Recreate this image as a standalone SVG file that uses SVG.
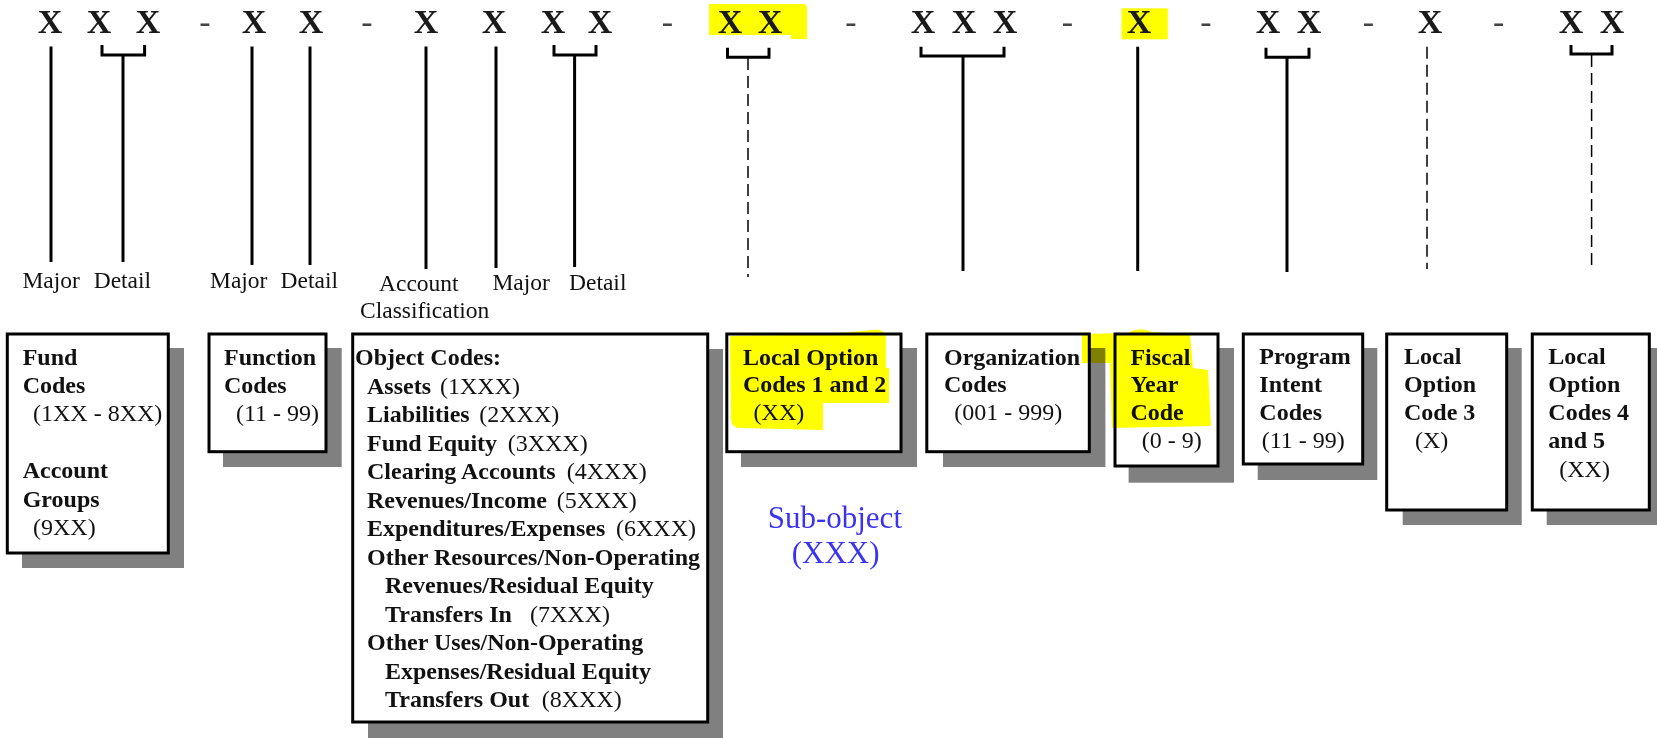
<svg xmlns="http://www.w3.org/2000/svg" width="1657" height="738" viewBox="0 0 1657 738">
<style>
.bx{fill:#fff;stroke:#000;stroke-width:3}
.sh{fill:#808080}
.t{font-family:"Liberation Serif","Times New Roman",serif;font-size:24px;font-weight:bold;fill:#111}
.r{font-weight:normal}
.top{font-family:"Liberation Serif","Times New Roman",serif;font-size:34px;font-weight:bold;fill:#1a1a1a;text-anchor:middle}
.hy{font-family:"Liberation Serif","Times New Roman",serif;font-size:34px;fill:#444;text-anchor:middle}
.lbl{font-family:"Liberation Serif","Times New Roman",serif;font-size:23.5px;fill:#111}
.ln{stroke:#000;stroke-width:3;fill:none}
.dl{stroke:#000;stroke-width:1.5;stroke-dasharray:12 6;fill:none}
.hl{fill:#ffff00;mix-blend-mode:multiply}
.sub{font-family:"Liberation Serif","Times New Roman",serif;font-size:31px;fill:#3a33f0}
</style>
<rect x="0" y="0" width="1657" height="738" fill="#fff"/>

<g id="code-row">
<path class="hl" d="M709,4 H803 Q807,4 807,8 V39 H791 V35 H709 Z"/>
<rect class="hl" x="1121.5" y="8.3" width="46.3" height="31"/>
<text class="top" x="50" y="33">X</text>
<text class="top" x="99" y="33">X</text>
<text class="top" x="148" y="33">X</text>
<text class="hy" x="205" y="33">-</text>
<text class="top" x="254" y="33">X</text>
<text class="top" x="311" y="33">X</text>
<text class="hy" x="367" y="33">-</text>
<text class="top" x="426" y="33">X</text>
<text class="top" x="494" y="33">X</text>
<text class="top" x="553" y="33">X</text>
<text class="top" x="600" y="33">X</text>
<text class="hy" x="667.5" y="33">-</text>
<text class="top" x="730" y="33">X</text>
<text class="top" x="770" y="33">X</text>
<text class="hy" x="851" y="33">-</text>
<text class="top" x="923" y="33">X</text>
<text class="top" x="964" y="33">X</text>
<text class="top" x="1005" y="33">X</text>
<text class="hy" x="1067.5" y="33">-</text>
<text class="top" x="1139" y="33">X</text>
<text class="hy" x="1206" y="33">-</text>
<text class="top" x="1268" y="33">X</text>
<text class="top" x="1309" y="33">X</text>
<text class="hy" x="1368.5" y="33">-</text>
<text class="top" x="1430" y="33">X</text>
<text class="hy" x="1498.7" y="33">-</text>
<text class="top" x="1571" y="33">X</text>
<text class="top" x="1612" y="33">X</text>
</g>

<g id="connectors">
<line class="ln" x1="51" y1="46.5" x2="51" y2="262"/>
<path class="ln" d="M102,45 V55 H144.6 V45 M123,55 V262"/>
<line class="ln" x1="252" y1="46.5" x2="252" y2="265"/>
<line class="ln" x1="310" y1="46.5" x2="310" y2="265"/>
<line class="ln" x1="426" y1="46.5" x2="426" y2="269"/>
<line class="ln" x1="496" y1="46.5" x2="496" y2="268"/>
<path class="ln" d="M554,45 V55 H596 V45 M574.6,55 V267"/>
<path class="ln" d="M727.5,47.7 V57.3 H769 V47.7"/>
<line class="dl" x1="748" y1="58" x2="748" y2="277"/>
<path class="ln" d="M921,46.7 V56 H1004 V46.7 M963,56 V271"/>
<line class="ln" x1="1137.7" y1="46.7" x2="1137.7" y2="271"/>
<path class="ln" d="M1266,47.7 V57.3 H1309 V47.7 M1287,57.3 V272"/>
<line class="dl" x1="1427" y1="46.7" x2="1427" y2="269"/>
<path class="ln" d="M1571,45 V54 H1612 V45"/>
<line class="dl" x1="1591.6" y1="55" x2="1591.6" y2="270"/>
</g>

<g id="labels">
<text class="lbl" x="22.4" y="288">Major</text>
<text class="lbl" x="93.7" y="288">Detail</text>
<text class="lbl" x="210" y="288">Major</text>
<text class="lbl" x="280.6" y="288">Detail</text>
<text class="lbl" x="379" y="291">Account</text>
<text class="lbl" x="360" y="318">Classification</text>
<text class="lbl" x="492.4" y="290">Major</text>
<text class="lbl" x="569" y="290">Detail</text>
</g>

<g id="fund">
<rect class="sh" x="22" y="348" width="162" height="220"/>
<rect class="bx" x="7.3" y="334" width="161" height="219"/>
<text class="t" x="22.7" y="365">Fund</text>
<text class="t" x="22.7" y="393">Codes</text>
<text class="t r" x="33" y="421">(1XX - 8XX)</text>
<text class="t" x="22.7" y="478">Account</text>
<text class="t" x="22.7" y="507">Groups</text>
<text class="t r" x="33" y="535">(9XX)</text>
</g>

<g id="function">
<rect class="sh" x="223" y="348" width="118.7" height="119"/>
<rect class="bx" x="209" y="334" width="117" height="117.7"/>
<text class="t" x="224" y="365">Function</text>
<text class="t" x="224" y="393">Codes</text>
<text class="t r" x="236" y="421">(11 - 99)</text>
</g>

<g id="object">
<rect class="sh" x="368" y="349" width="355" height="392"/>
<rect class="bx" x="352.7" y="334" width="355" height="388"/>
<text class="t" x="355" y="365">Object Codes:</text>
<text class="t" x="367" y="393.5">Assets<tspan class="r" x="440">(1XXX)</tspan></text>
<text class="t" x="367" y="422">Liabilities<tspan class="r" x="479.3">(2XXX)</tspan></text>
<text class="t" x="367" y="450.5">Fund Equity<tspan class="r" x="507.7">(3XXX)</tspan></text>
<text class="t" x="367" y="479">Clearing Accounts<tspan class="r" x="566.7">(4XXX)</tspan></text>
<text class="t" x="367" y="507.5">Revenues/Income<tspan class="r" x="556.7">(5XXX)</tspan></text>
<text class="t" x="367" y="536">Expenditures/Expenses<tspan class="r" x="616">(6XXX)</tspan></text>
<text class="t" x="367" y="564.5">Other Resources/Non-Operating</text>
<text class="t" x="385" y="593">Revenues/Residual Equity</text>
<text class="t" x="385" y="621.5">Transfers In<tspan class="r" x="530">(7XXX)</tspan></text>
<text class="t" x="367" y="650">Other Uses/Non-Operating</text>
<text class="t" x="385" y="678.5">Expenses/Residual Equity</text>
<text class="t" x="385" y="707">Transfers Out<tspan class="r" x="541.7">(8XXX)</tspan></text>
</g>

<g id="local-option-1-2">
<rect class="sh" x="741" y="348" width="176" height="119"/>
<rect class="bx" x="726.8" y="334" width="174.2" height="117.7"/>
<text class="t" x="742.9" y="364.5">Local Option</text>
<text class="t" x="742.9" y="392">Codes 1 and 2</text>
<text class="t r" x="753.6" y="420">(XX)</text>
</g>

<g id="sub-object">
<text class="sub" x="767.7" y="528.3">Sub-object</text>
<text class="sub" x="791.7" y="563.3">(XXX)</text>
</g>

<g id="organization">
<rect class="sh" x="943" y="348" width="162.4" height="119"/>
<rect class="bx" x="926.8" y="334" width="162.5" height="117.7"/>
<text class="t" x="944" y="364.5">Organization</text>
<text class="t" x="944" y="392">Codes</text>
<text class="t r" x="954.3" y="420">(001 - 999)</text>
</g>

<g id="fiscal-year">
<rect class="sh" x="1128.6" y="348" width="105.4" height="134.7"/>
<rect class="bx" x="1115" y="334" width="103" height="132"/>
<text class="t" x="1130.4" y="364.5">Fiscal</text>
<text class="t" x="1130.4" y="392">Year</text>
<text class="t" x="1130.4" y="420">Code</text>
<text class="t r" x="1141.8" y="448">(0 - 9)</text>
</g>

<g id="program-intent">
<rect class="sh" x="1257.7" y="348" width="119.6" height="132"/>
<rect class="bx" x="1243.3" y="334" width="119.4" height="130"/>
<text class="t" x="1259.3" y="364">Program</text>
<text class="t" x="1259.3" y="392">Intent</text>
<text class="t" x="1259.3" y="420">Codes</text>
<text class="t r" x="1261.7" y="448">(11 - 99)</text>
</g>

<g id="local-option-3">
<rect class="sh" x="1402.7" y="348" width="119" height="177"/>
<rect class="bx" x="1386.7" y="334" width="120" height="176"/>
<text class="t" x="1404" y="364">Local</text>
<text class="t" x="1404" y="392">Option</text>
<text class="t" x="1404" y="420">Code 3</text>
<text class="t r" x="1415" y="448">(X)</text>
</g>

<g id="local-option-4-5">
<rect class="sh" x="1546.7" y="348" width="120" height="177"/>
<rect class="bx" x="1532.3" y="334" width="117" height="176"/>
<text class="t" x="1548.3" y="364">Local</text>
<text class="t" x="1548.3" y="392">Option</text>
<text class="t" x="1548.3" y="420">Codes 4</text>
<text class="t" x="1548.3" y="448">and 5</text>
<text class="t r" x="1559.3" y="477">(XX)</text>
</g>

<g id="highlights">
<path class="hl" d="M732,336 Q730,335 730,340 L731,420 Q732,428 740,428 L823,430 L823,403 L889,403 L889,368 L886,368 L886,334 Q880,328 872,330 L829,334 Z"/>
<path class="hl" d="M1082,334 L1128,333 Q1140,326 1152,332 L1190,334 L1193,368 L1208,370 L1211,426 L1112,428 L1110,363 L1082,363 Z"/>
</g>
</svg>
